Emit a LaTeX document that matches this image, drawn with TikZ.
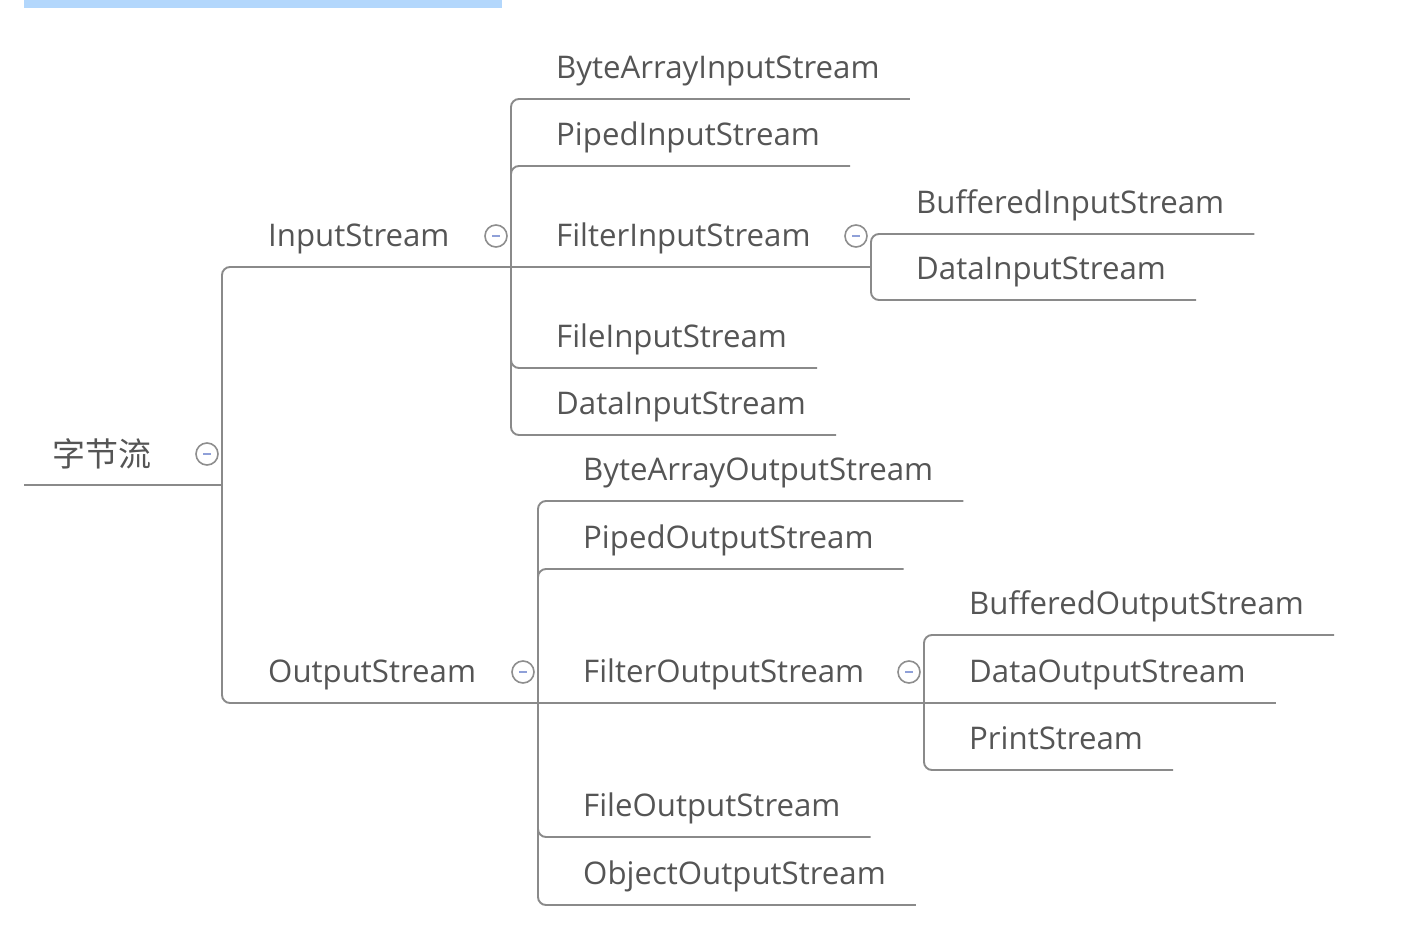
\documentclass[tikz,border=0pt]{standalone}
\usepackage{fontspec}
\setmainfont{Open Sans}
\newfontfamily\cjk{Noto Sans CJK SC}
\usetikzlibrary{calc}
\definecolor{txt}{HTML}{555555}
\definecolor{ln}{HTML}{8A8A8A}
\definecolor{bar}{HTML}{B3D7FC}
\definecolor{mc}{HTML}{8FA0D8}
\definecolor{cc}{HTML}{8E8E8E}
\tikzset{
  lbl/.style={anchor=base west, inner sep=0pt, text=txt, font=\fontsize{31.2}{36}\selectfont},
  conn/.style={draw=ln, line width=1.9pt, rounded corners=8pt},
  toggle/.style={circle, draw=cc, line width=1.6pt, minimum size=22pt, inner sep=0pt, fill=white},
  minusmark/.style={draw=mc, line width=1.5pt}
}
\newcommand{\ul}[1]{([xshift=30pt,yshift=-20.5pt]#1.base east)}
\begin{document}
\begin{tikzpicture}[x=1pt,y=-1pt]
\useasboundingbox (0,0) rectangle (1402,952);
\fill[bar] (24,0) rectangle (502,8);

% junctions
\coordinate (r0) at (24,485);
\coordinate (jR) at (222,485);
\coordinate (jI) at (511,267);
\coordinate (jO) at (538,703);
\coordinate (jFI) at (871,267);
\coordinate (jFO) at (924,703);

% text nodes
\node[lbl, font=\cjk\fontsize{33}{38}\selectfont] (root) at (52,466) {字节流};
\node[lbl] (in) at (268,246.5) {InputStream};
\node[lbl] (out) at (268,682.5) {OutputStream};

\node[lbl] (bais) at (556,78.5) {ByteArrayInputStream};
\node[lbl] (pis) at (556,145.5) {PipedInputStream};
\node[lbl] (fis) at (556,246.5) {FilterInputStream};
\node[lbl] (fileis) at (556,347.5) {FileInputStream};
\node[lbl] (dis) at (556,414.5) {DataInputStream};

\node[lbl] (bis) at (916,213.5) {BufferedInputStream};
\node[lbl] (dis2) at (916,279.5) {DataInputStream};

\node[lbl] (baos) at (583,480.5) {ByteArrayOutputStream};
\node[lbl] (pos) at (583,548.5) {PipedOutputStream};
\node[lbl] (fos) at (583,682.5) {FilterOutputStream};
\node[lbl] (fileos) at (583,816.5) {FileOutputStream};
\node[lbl] (oos) at (583,884.5) {ObjectOutputStream};

\node[lbl] (bos) at (969,614.5) {BufferedOutputStream};
\node[lbl] (dos) at (969,682.5) {DataOutputStream};
\node[lbl] (ps) at (969,749.5) {PrintStream};

% connectors
\draw[conn] (r0) -- (jR);
\draw[conn] (jR) |- (jI);
\draw[conn] (jR) |- (jO);

\draw[conn] (jI) |- \ul{bais};
\draw[conn] (jI) |- \ul{pis};
\draw[conn] (jI) -- (jFI);
\draw[conn] (jI) |- \ul{fileis};
\draw[conn] (jI) |- \ul{dis};

\draw[conn] (jFI) |- \ul{bis};
\draw[conn] (jFI) |- \ul{dis2};

\draw[conn] (jO) |- \ul{baos};
\draw[conn] (jO) |- \ul{pos};
\draw[conn] (jO) -- (jFO);
\draw[conn] (jO) |- \ul{fileos};
\draw[conn] (jO) |- \ul{oos};

\draw[conn] (jFO) |- \ul{bos};
\draw[conn] (jFO) -- \ul{dos};
\draw[conn] (jFO) |- \ul{ps};

% collapse toggles
\foreach \n/\j in {tR/jR, tI/jI, tFI/jFI, tO/jO, tFO/jFO}{
  \node[toggle] (\n) at ([xshift=-15pt,yshift=31pt]\j) {};
  \draw[minusmark] ([xshift=-4pt]\n.center) -- ([xshift=4pt]\n.center);
}
\end{tikzpicture}
\end{document}
